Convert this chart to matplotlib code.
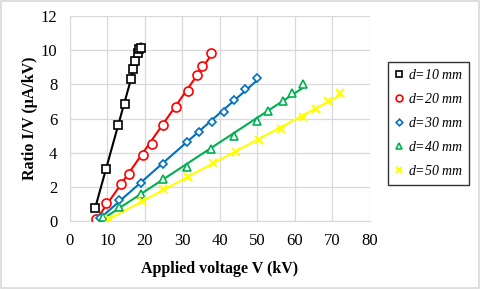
import numpy as np
import matplotlib
matplotlib.use('Agg')
import matplotlib.pyplot as plt
from matplotlib.patches import Rectangle

plt.rcParams['font.family'] = ['Liberation Serif', 'DejaVu Serif']
plt.rcParams['mathtext.fontset'] = 'custom'
plt.rcParams['mathtext.it'] = 'Liberation Serif:italic'

# data
labels = ['10', '20', '30', '40', '50']
v10 = [6.8, 9.5, 12.8, 14.7, 16.3, 16.8, 17.3, 18.1, 18.5, 18.9]
r10 = [0.75, 3.06, 5.62, 6.83, 8.31, 8.88, 9.38, 9.82, 10.05, 10.12]
v20 = [6.85, 9.5, 13.5, 15.7, 19.5, 21.8, 24.9, 28.3, 31.4, 33.8, 35.3, 37.5]
r20 = [0.12, 1.03, 2.19, 2.75, 3.88, 4.5, 5.62, 6.69, 7.63, 8.57, 9.07, 9.85]
v30 = [8.0, 13.1, 19.0, 24.9, 31.3, 34.4, 37.8, 41.2, 43.8, 46.8, 49.9]
r30 = [0.2, 1.25, 2.24, 3.34, 4.64, 5.21, 5.78, 6.38, 7.08, 7.75, 8.39]
v40 = [8.8, 13.1, 19.0, 24.9, 31.1, 37.5, 43.7, 49.8, 52.7, 56.7, 59.1, 62.2]
r40 = [0.25, 0.84, 1.6, 2.44, 3.18, 4.21, 4.98, 5.85, 6.44, 7.03, 7.47, 8.02]
v50 = [10.5, 19.1, 24.9, 31.6, 38.2, 44.2, 50.4, 56.3, 62.1, 65.5, 68.7, 72.0]
r50 = [0.12, 1.19, 1.87, 2.6, 3.38, 4.06, 4.72, 5.41, 6.11, 6.58, 7.04, 7.47]

colors = ['black', '#ff0000', '#0070c0', '#00b050', '#ffff00']
markers = ['s', 'o', 'D', '^', 'x']
msizes = [6, 6.5, 4.5, 6, 6]
series = [(v10, r10), (v20, r20), (v30, r30), (v40, r40), (v50, r50)]

fig = plt.figure(figsize=(4.8, 2.89), dpi=100)
ax = fig.add_axes([0.1458, 0.2353, 0.625, 0.7093])

for (x, y), c, m, ms, lab in zip(series, colors, markers, msizes, labels):
    x = np.array(x)
    y = np.array(y)
    k, b = np.polyfit(x, y, 1)
    xs = np.array([x.min(), x.max()])
    ax.plot(xs, k * xs + b, color=c, lw=1.5, zorder=2)
    if m == 'x':
        ax.plot(x, y, ls='none', marker=m, ms=ms, mew=1.5, color=c, zorder=3,
                label='$d$=' + lab + ' mm')
    else:
        ax.plot(x, y, ls='none', marker=m, ms=ms, mew=1.2, mfc='white', mec=c,
                zorder=3, label='$d$=' + lab + ' mm')

ax.set_xlim(0, 80)
ax.set_ylim(0, 12)
ax.set_xticks(range(0, 81, 10))
ax.set_yticks(range(0, 13, 2))
ax.grid(True, color='#d9d9d9', lw=0.9)
ax.set_axisbelow(True)
for s in ['top', 'right']:
    ax.spines[s].set_visible(False)
for s in ['left', 'bottom']:
    ax.spines[s].set_color('#d9d9d9')
ax.tick_params(length=0, labelsize=12, pad=9)
ax.set_xlabel('Applied voltage V (kV)', fontsize=11.5, fontweight='bold', labelpad=8)
ax.set_ylabel('Ratio I/V (\u03bcA/kV)', fontsize=11.5, fontweight='bold', labelpad=2)

leg = fig.legend(loc='upper left', bbox_to_anchor=(388 / 480, 1 - 62 / 289),
                 borderaxespad=0, frameon=True, fancybox=False, edgecolor='black',
                 prop={'style': 'italic', 'size': 10},
                 handletextpad=0.3, handlelength=0.7, labelspacing=0.72,
                 borderpad=0.45, markerscale=0.75)
leg.get_frame().set_linewidth(1.0)

fig.patches.append(Rectangle((0.002, 0.003), 0.996, 0.994, transform=fig.transFigure,
                             fill=False, edgecolor='#d9d9d9', lw=1.2))

fig.savefig('out.png', dpi=100)
